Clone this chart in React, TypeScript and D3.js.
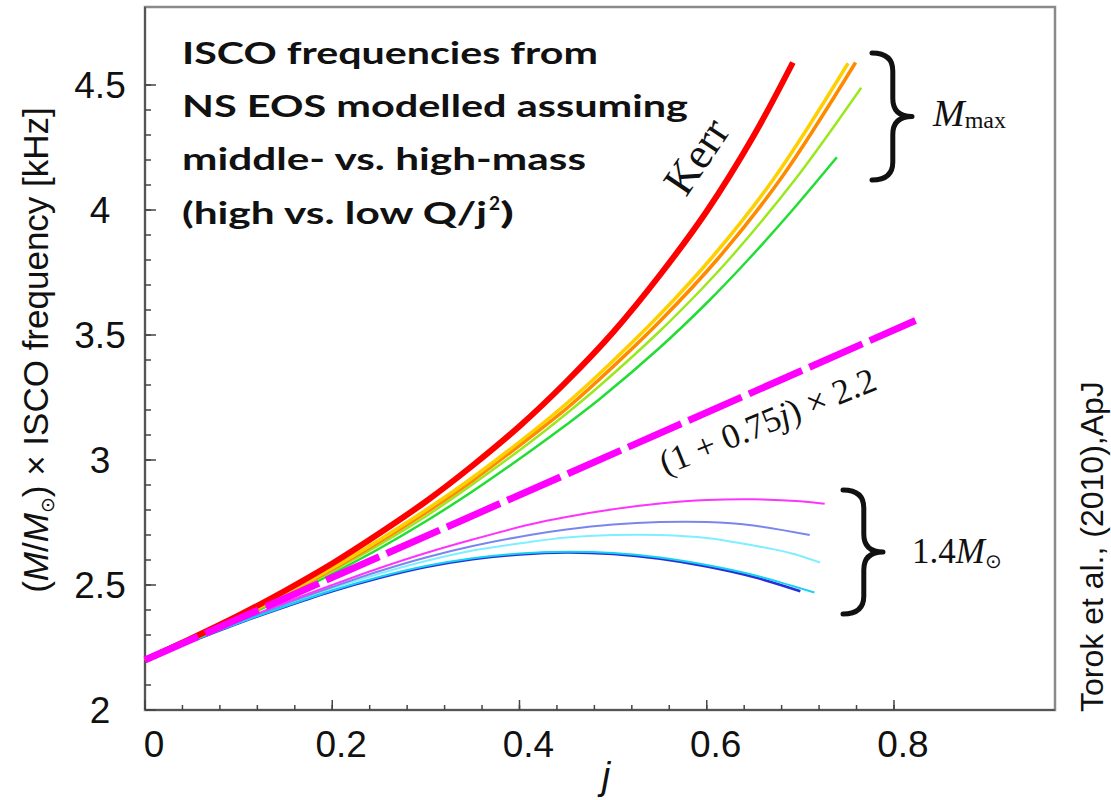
import React from 'react';
import * as d3 from 'd3';

type P = [number, number];

const xMajor = [0, 0.2, 0.4, 0.6, 0.8];
const xLabels = ['0', '0.2', '0.4', '0.6', '0.8'];
const yMajor = [2, 2.5, 3, 3.5, 4, 4.5];
const yLabels = ['2', '2.5', '3', '3.5', '4', '4.5'];

const kerr: P[] = [[0, 2.2], [0.05, 2.287], [0.1, 2.378], [0.15, 2.478], [0.2, 2.586], [0.25, 2.706], [0.3, 2.834], [0.35, 2.978], [0.4, 3.135], [0.45, 3.313], [0.5, 3.511], [0.55, 3.74], [0.6, 3.995], [0.65, 4.296], [0.692, 4.59]];
const nsYellow: P[] = [[0, 2.2], [0.05, 2.283], [0.1, 2.37], [0.15, 2.465], [0.2, 2.568], [0.25, 2.68], [0.3, 2.8], [0.35, 2.93], [0.411, 3.105], [0.45, 3.225], [0.486, 3.347], [0.55, 3.582], [0.606, 3.812], [0.672, 4.127], [0.751, 4.587]];
const nsOrange: P[] = [[0, 2.2], [0.05, 2.282], [0.1, 2.368], [0.15, 2.462], [0.2, 2.563], [0.25, 2.672], [0.3, 2.79], [0.35, 2.918], [0.411, 3.09], [0.45, 3.205], [0.486, 3.325], [0.55, 3.555], [0.613, 3.81], [0.68, 4.13], [0.759, 4.59]];
const nsLime: P[] = [[0, 2.2], [0.05, 2.281], [0.1, 2.365], [0.15, 2.456], [0.2, 2.555], [0.25, 2.66], [0.3, 2.775], [0.35, 2.903], [0.411, 3.07], [0.45, 3.185], [0.486, 3.298], [0.55, 3.516], [0.59, 3.666], [0.627, 3.816], [0.695, 4.125], [0.765, 4.489]];
const nsGreen: P[] = [[0, 2.2], [0.05, 2.28], [0.1, 2.362], [0.15, 2.45], [0.2, 2.545], [0.25, 2.645], [0.3, 2.755], [0.35, 2.875], [0.411, 3.034], [0.45, 3.141], [0.486, 3.245], [0.55, 3.45], [0.6, 3.628], [0.643, 3.796], [0.69, 3.993], [0.739, 4.211]];

const m14Magenta: P[] = [[0, 2.2], [0.05, 2.278], [0.1, 2.355], [0.15, 2.43], [0.2, 2.5], [0.25, 2.567], [0.3, 2.628], [0.35, 2.682], [0.411, 2.742], [0.45, 2.772], [0.5, 2.803], [0.55, 2.826], [0.6, 2.84], [0.65, 2.843], [0.7, 2.835], [0.726, 2.825]];
const m14Violet: P[] = [[0, 2.2], [0.05, 2.277], [0.1, 2.352], [0.15, 2.425], [0.2, 2.492], [0.25, 2.555], [0.3, 2.61], [0.35, 2.656], [0.411, 2.7], [0.45, 2.722], [0.5, 2.742], [0.55, 2.752], [0.6, 2.752], [0.65, 2.738], [0.71, 2.7]];
const m14LightCyan: P[] = [[0, 2.2], [0.05, 2.276], [0.1, 2.35], [0.15, 2.42], [0.2, 2.486], [0.25, 2.545], [0.3, 2.596], [0.35, 2.638], [0.411, 2.672], [0.45, 2.69], [0.5, 2.7], [0.55, 2.7], [0.6, 2.688], [0.65, 2.658], [0.69, 2.627], [0.721, 2.59]];
const m14Blue: P[] = [[0, 2.2], [0.05, 2.275], [0.1, 2.347], [0.15, 2.413], [0.2, 2.475], [0.25, 2.528], [0.3, 2.572], [0.35, 2.603], [0.4, 2.622], [0.45, 2.63], [0.5, 2.624], [0.55, 2.605], [0.6, 2.574], [0.65, 2.532], [0.7, 2.475]];
const m14Cyan: P[] = [[0, 2.2], [0.05, 2.276], [0.1, 2.348], [0.15, 2.415], [0.2, 2.478], [0.25, 2.532], [0.3, 2.576], [0.35, 2.607], [0.4, 2.626], [0.45, 2.633], [0.5, 2.628], [0.55, 2.61], [0.6, 2.58], [0.65, 2.54], [0.715, 2.47]];

const linearFit: P[] = [[0, 2.2], [0.823, 3.558]];

const titleLines = ['ISCO frequencies from', 'NS EOS modelled assuming', 'middle- vs. high-mass'];

const x = d3.scaleLinear().domain([0, 0.972]).range([145, 1055]);
const y = d3.scaleLinear().domain([2, 4.812]).range([710, 7]);

const line = d3.line<P>().x(d => x(d[0])).y(d => y(d[1])).curve(d3.curveCatmullRom.alpha(0.5));

function brace(x0: number, x1: number, y0: number, y1: number): string {
  const xm = x0 + (x1 - x0) * 0.52;
  const ym = (y0 + y1) / 2;
  const r = 18;
  return `M${x0},${y0} Q${xm},${y0} ${xm},${y0 + r} L${xm},${ym - r} Q${xm},${ym} ${x1},${ym} Q${xm},${ym} ${xm},${ym + r} L${xm},${y1 - r} Q${xm},${y1} ${x0},${y1}`;
}

export default function App() {
  const xMinor = d3.range(0, 0.8001, 0.04);
  const yMinor = d3.range(2, 4.5001, 0.1);
  const sans = 'Liberation Sans, Arial, sans-serif';
  const serif = 'Liberation Serif, Times New Roman, serif';
  const titleFont = 'Lato, Open Sans, sans-serif';
  const series: { d: P[]; c: string; w: number }[] = [
    { d: m14LightCyan, c: '#7fefff', w: 2 },
    { d: m14Violet, c: '#7a86ee', w: 2 },
    { d: m14Magenta, c: '#ff33ff', w: 2 },
    { d: m14Blue, c: '#2630d8', w: 2.5 },
    { d: m14Cyan, c: '#18d0f0', w: 2 },
    { d: nsGreen, c: '#22dd33', w: 2.5 },
    { d: nsLime, c: '#9be81e', w: 2.5 },
    { d: nsOrange, c: '#ff8a00', w: 3.5 },
    { d: nsYellow, c: '#ffd000', w: 3.5 },
    { d: kerr, c: '#ff0000', w: 6 },
  ];
  return (
    <svg width={1111} height={800} style={{ position: 'absolute', left: 0, top: 0, background: '#fff' }}>
      <rect x={0} y={0} width={1111} height={800} fill="#fff" />
      <rect x={145} y={7} width={910} height={703} fill="none" stroke="#8a8a8a" strokeWidth={2.5} />
      <line x1={145} y1={7} x2={145} y2={710} stroke="#555" strokeWidth={2} />
      <line x1={145} y1={710} x2={1055} y2={710} stroke="#555" strokeWidth={2} />
      {xMinor.map((v, i) => (
        <line key={'xm' + i} x1={x(v)} x2={x(v)} y1={710} y2={705} stroke="#444" strokeWidth={1.5} />
      ))}
      {xMajor.map((v, i) => (
        <g key={'xM' + i}>
          <line x1={x(v)} x2={x(v)} y1={710} y2={700} stroke="#444" strokeWidth={1.5} />
          <text x={x(v) + 9} y={757} fontFamily={sans} fontSize={37} textAnchor="middle" fill="#111">{xLabels[i]}</text>
        </g>
      ))}
      {yMinor.map((v, i) => (
        <line key={'ym' + i} x1={145} x2={151} y1={y(v)} y2={y(v)} stroke="#444" strokeWidth={1.5} />
      ))}
      {yMajor.map((v, i) => (
        <g key={'yM' + i}>
          <line x1={145} x2={156} y1={y(v)} y2={y(v)} stroke="#444" strokeWidth={1.5} />
          <text x={100} y={y(v) + 13} fontFamily={sans} fontSize={37} textAnchor="middle" fill="#111">{yLabels[i]}</text>
        </g>
      ))}
      {series.map((s, i) => (
        <path key={'s' + i} d={line(s.d) || ''} fill="none" stroke={s.c} strokeWidth={s.w} strokeLinecap="butt" />
      ))}
      <path d={line(linearFit) || ''} fill="none" stroke="#ff00ff" strokeWidth={7} strokeDasharray="58 8" />

      {titleLines.map((t, i) => (
        <text key={'t' + i} x={182} y={64 + i * 53} fontFamily={titleFont} fontWeight={700} fontSize={31}
          textLength={[416, 506, 404][i]} lengthAdjust="spacingAndGlyphs" fill="#111">{t}</text>
      ))}
      <text x={182} y={224} fontFamily={titleFont} fontWeight={700} fontSize={31}
        textLength={305} lengthAdjust="spacingAndGlyphs" fill="#111">(high vs. low Q/j</text>
      <text x={489} y={210} fontFamily={titleFont} fontWeight={700} fontSize={19} fill="#111">2</text>
      <text x={500} y={224} fontFamily={titleFont} fontWeight={700} fontSize={31}
        textLength={14} lengthAdjust="spacingAndGlyphs" fill="#111">)</text>

      <text transform="translate(686,198) rotate(-56)" fontFamily={serif} fontSize={44} fill="#111">Kerr</text>
      <text transform="translate(772,432) rotate(-22)" fontFamily={serif} fontSize={35} textAnchor="middle" fill="#111">
        (1 + 0.75<tspan fontStyle="italic">j</tspan>) × 2.2
      </text>

      <path d={brace(872, 912, 53, 180)} fill="none" stroke="#111" strokeWidth={5} strokeLinecap="round" strokeLinejoin="round" />
      <text x={933} y={126} fontFamily={serif} fill="#111">
        <tspan fontStyle="italic" fontSize={38}>M</tspan>
        <tspan fontSize={24} dy={2}>max</tspan>
      </text>
      <path d={brace(843, 883, 490, 614)} fill="none" stroke="#111" strokeWidth={5} strokeLinecap="round" strokeLinejoin="round" />
      <text x={912} y={563} fontFamily={serif} fill="#111">
        <tspan fontSize={35}>1.4</tspan>
        <tspan fontStyle="italic" fontSize={35}>M</tspan>
        <tspan fontSize={20} dy={5} fontFamily="DejaVu Sans, sans-serif">⊙</tspan>
      </text>

      <text transform="translate(48,350) rotate(-90)" fontFamily={sans} fontSize={35} textAnchor="middle" fill="#111">
        (<tspan fontStyle="italic">M</tspan>/<tspan fontStyle="italic">M</tspan><tspan fontSize={19} dy={6} fontFamily="DejaVu Sans, sans-serif">⊙</tspan><tspan dy={-6}>) × ISCO frequency [kHz]</tspan>
      </text>
      <text x={606} y={789} fontFamily={sans} fontStyle="italic" fontSize={38} textAnchor="middle" fill="#111">j</text>
      <text transform="translate(1103,712) rotate(-90)" fontFamily={sans} fontSize={32} fill="#111">Torok et al., (2010),ApJ</text>
    </svg>
  );
}
